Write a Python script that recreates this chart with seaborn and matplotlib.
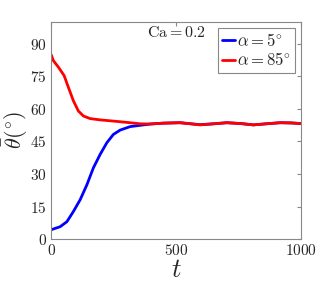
import numpy as np
import pandas as pd
import matplotlib
matplotlib.use("Agg")
import matplotlib.pyplot as plt
import seaborn as sns

sns.set_style("white")
plt.rcParams['font.family'] = 'serif'
plt.rcParams['font.serif'] = ['cmr10']
plt.rcParams['mathtext.fontset'] = 'cm'
plt.rcParams['axes.formatter.use_mathtext'] = True

# readings
blue_t = [0, 36, 63, 89, 116, 143, 169, 196, 223, 249, 276, 316, 356, 396,
          449, 516, 596, 650, 703, 760, 809, 860, 916, 960, 1000]
blue_vals = [4.3, 5.7, 8.0, 12.7, 18.1, 25.0, 32.8, 39.0, 44.4, 48.2, 50.2, 51.8, 52.4, 53.0,
             53.4, 53.6, 52.7, 53.1, 53.6, 53.2, 52.6, 53.1, 53.6, 53.5, 53.2]
red_t = [0, 9, 29, 52, 69, 89, 109, 129, 156, 196, 263, 316, 356, 396,
         449, 516, 596, 650, 703, 760, 809, 860, 916, 960, 1000]
red_vals = [85.0, 82.2, 79.2, 75.3, 69.9, 63.7, 59.0, 56.7, 55.5, 54.9, 54.2, 53.6, 53.1, 53.0,
            53.4, 53.6, 52.6, 53.1, 53.6, 53.2, 52.6, 53.1, 53.6, 53.5, 53.2]
labels = [r'$\alpha = 5^{\circ}$', r'$\alpha = 85^{\circ}$']
colors = ['#0000ff', '#ff0000']

df = pd.DataFrame({
    't': blue_t + red_t,
    'theta': blue_vals + red_vals,
    'case': [labels[0]] * len(blue_t) + [labels[1]] * len(red_t),
})

fig = plt.figure(figsize=(3.32, 2.93), dpi=100)
ax = fig.add_axes([0.154, 0.184, 0.753, 0.741])
sns.lineplot(data=df, x='t', y='theta', hue='case', palette=colors, lw=2.0, ax=ax)

ax.set_xlim(0, 1000)
ax.set_ylim(0, 100)
ax.set_xticks([0, 500, 1000])
ax.set_yticks([0, 15, 30, 45, 60, 75, 90])
ax.tick_params(direction='in', length=3, labelsize=11, color='#888888',
               top=True, right=True, pad=3)
for s in ax.spines.values():
    s.set_color('#888888')
    s.set_linewidth(0.8)

ax.set_xlabel(r'$t$', fontsize=19, labelpad=0)
ax.set_ylabel(r'$\bar{\theta}(^{\circ})$', fontsize=16)
ax.yaxis.set_label_coords(-0.085, 0.5)
ax.text(0.5, 0.985, r'$\mathrm{Ca} = 0.2$', transform=ax.transAxes,
        ha='center', va='top', fontsize=11.5)

leg = ax.legend(loc='upper right', fontsize=12, handlelength=0.8, handletextpad=0.1,
                borderpad=0.25, labelspacing=0.15, fancybox=False, framealpha=1,
                borderaxespad=0.35)
leg.get_frame().set_edgecolor('#888888')
leg.get_frame().set_linewidth(0.8)
leg.set_title(None)

fig.savefig('out.png', dpi=100)
